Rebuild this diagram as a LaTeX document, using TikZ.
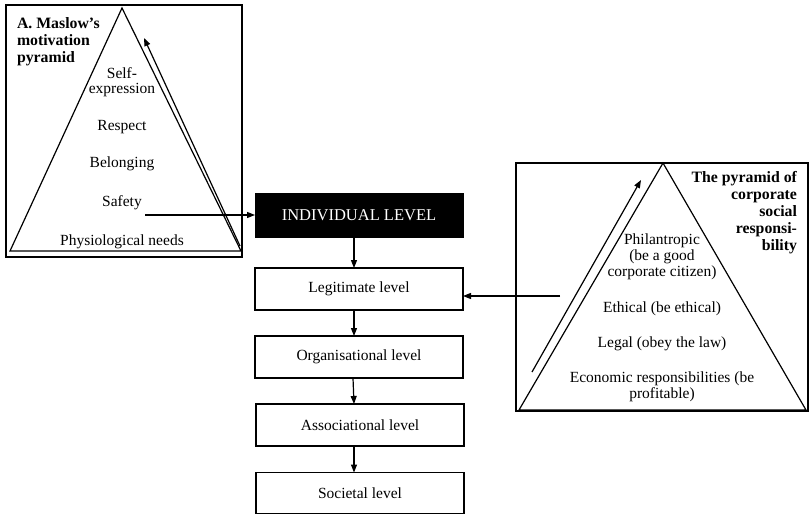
\documentclass[tikz,border=0pt]{standalone}
\usepackage{fontspec}
\setmainfont{Liberation Serif}
\usetikzlibrary{arrows.meta}
\begin{document}
\begin{tikzpicture}[x=1pt,y=-1pt,
  every node/.style={font=\fontsize{15.5}{16}\selectfont, inner sep=0pt, outer sep=0pt},
  frame/.style={draw, line width=1.2pt},
  levelbox/.style={draw, line width=1.2pt, minimum width=208pt, minimum height=42pt},
  blackbox/.style={fill=black, draw=black, minimum width=208pt, minimum height=44pt, text=white,
    font=\fontsize{16.5}{17}\selectfont},
  arr/.style={-{Triangle[length=8pt,width=6pt]}, line width=1.2pt},
  item/.style={align=center},
  ttl/.style={font=\fontsize{15.8}{17}\selectfont\bfseries}]
\useasboundingbox (0,0) rectangle (809,515);

% ---------- Maslow pyramid ----------
\node[frame, anchor=north west, minimum width=236pt, minimum height=252pt] (mbox) at (6,5) {};
\coordinate (mA) at (122,8);
\coordinate (mL) at (10,251);
\coordinate (mR) at (241,251);
\draw[line width=1.2pt] (mA) -- (mL) -- (mR) -- cycle;
\coordinate (ms) at (240,246);
\coordinate (me) at (144,38);
\draw[arr] (ms) -- (me);
\node[ttl, anchor=north west, align=left] (mtitle) at (17,18) {A. Maslow's\\motivation\\pyramid};
\node[item, font=\fontsize{15.5}{15.5}\selectfont] (self) at (122,82) {Self-\\expression};
\node (resp) at (122,127) {Respect};
\node (belo) at (122,164) {Belonging};
\node (safe) at (122,203) {Safety};
\node (phys) at (122,242) {Physiological needs};

% ---------- central chain ----------
\node[blackbox] (ind) at (359,215) {INDIVIDUAL LEVEL};
\node[levelbox] (leg) at (359,289) {Legitimate level};
\node[levelbox] (org) at (359,357) {Organisational level};
\node[levelbox] (ass) at (360,425) {Associational level};
\node[levelbox, minimum height=41pt] (soc) at (360,493) {Societal level};

\coordinate (sf) at (145,215);
\draw[arr] (sf) -- (ind.west);
\draw[arr] ([xshift=-5pt]ind.south) -- ([xshift=-5pt]leg.north);
\draw[arr] ([xshift=-5pt]leg.south) -- ([xshift=-5pt]org.north);
\draw[arr] ([xshift=-6pt]org.south) -- ([xshift=-6pt]ass.north);
\draw[arr] ([xshift=-6pt]ass.south) -- ([xshift=-6pt]soc.north);

% ---------- CSR pyramid ----------
\node[frame, anchor=north west, minimum width=292pt, minimum height=248pt] (cbox) at (516,163) {};
\coordinate (cA) at (663,163);
\coordinate (cL) at (519,410);
\coordinate (cR) at (806,410);
\draw[line width=1.2pt] (cA) -- (cL) -- (cR) -- cycle;
\coordinate (cs) at (532,372);
\coordinate (ce) at (641,180);
\draw[arr] (cs) -- (ce);
\coordinate (ra) at (560,296);
\draw[arr] (ra) -- (leg.east |- ra);
\node[ttl, anchor=north east, align=right] (ctitle) at (797,171) {The pyramid of\\corporate\\social\\responsi-\\bility};
\node[item] (phil) at (662,257) {Philantropic\\(be a good\\corporate citizen)};
\node (eth) at (662,309) {Ethical (be ethical)};
\node (lgl) at (662,344) {Legal (obey the law)};
\node[item] (eco) at (662,387) {Economic responsibilities (be\\profitable)};
\end{tikzpicture}
\end{document}
